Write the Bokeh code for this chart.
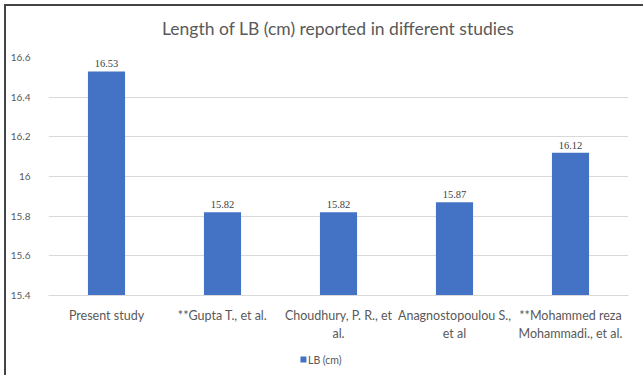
from bokeh.plotting import figure
from bokeh.layouts import column
from bokeh.models import ColumnDataSource, LabelSet, FixedTicker, CustomJSTickFormatter, Range1d
from bokeh.core.properties import value
from bokeh.embed import file_html
from bokeh.resources import INLINE

studies = ["Present study", "**Gupta T., et al.", "Choudhury, P. R., et\nal.",
           "Anagnostopoulou S.,\net al", "**Mohammed reza\nMohammadi., et al."]
lb_cm = [16.53, 15.82, 15.82, 15.87, 16.12]
y_ticks = [15.4, 15.6, 15.8, 16.0, 16.2, 16.4, 16.6]
series_name = "LB (cm)"
title_text = "Length of LB (cm) reported in different studies"

FONT = "Lato"
GRAY = "#595959"
BLUE = "#4472C4"
W = 637


def blank_fig(h):
    f = figure(width=W, height=h, x_range=Range1d(0, W), y_range=Range1d(0, h),
               x_axis_type=None, y_axis_type=None, output_backend="svg", toolbar_location=None,
               min_border=0)
    f.outline_line_color = None
    f.grid.visible = False
    return f


# ---- title strip ----
tfig = blank_fig(40)
tfig.text(x=[318], y=[18], text=[title_text], text_align="center", text_baseline="middle",
          text_font=value(FONT), text_font_size="17.5px", text_color=GRAY)

# ---- main chart ----
src = ColumnDataSource(dict(x=studies, y=lb_cm, lab=[f"{v:.2f}" for v in lb_cm]))

p = figure(x_range=studies, y_range=(15.4, 16.6), width=W, height=297,
           output_backend="svg", toolbar_location=None,
           min_border_left=42, min_border_right=15, min_border_top=11, min_border_bottom=44)
p.outline_line_color = None

r = p.vbar(x="x", top="y", bottom=15.4, width=0.32, source=src, fill_color=BLUE, line_color=None)

labels = LabelSet(x="x", y="y", text="lab", source=src, y_offset=4, text_align="center",
                  text_baseline="bottom", text_font=FONT, text_font_size="10.5px", text_color="#404040")
p.add_layout(labels)

p.yaxis.ticker = FixedTicker(ticks=y_ticks)
p.yaxis.formatter = CustomJSTickFormatter(code="return tick.toFixed(1).replace(/\\.0$/, '')")
p.yaxis.axis_line_color = None
p.yaxis.major_tick_line_color = None
p.yaxis.minor_tick_line_color = None
p.yaxis.major_label_text_font = FONT
p.yaxis.major_label_text_font_size = "10px"
p.yaxis.major_label_text_color = GRAY
p.yaxis.major_label_standoff = 12

p.xaxis.axis_line_color = "#d9d9d9"
p.xaxis.major_tick_line_color = None
p.xaxis.minor_tick_line_color = None
p.xaxis.major_label_text_font = FONT
p.xaxis.major_label_text_font_size = "12.5px"
p.xaxis.major_label_text_color = GRAY
p.xaxis.major_label_standoff = 6

p.xgrid.grid_line_color = None
p.ygrid.grid_line_color = "#d9d9d9"
p.ygrid.ticker = FixedTicker(ticks=y_ticks)

# ---- legend strip ----
lfig = blank_fig(32)
lfig.scatter(x=[280], y=[16], marker="square", size=6, fill_color=BLUE, line_color=None)
lfig.text(x=[285], y=[16], text=[series_name], text_align="left", text_baseline="middle",
          text_font=value(FONT), text_font_size="10.5px", text_color=GRAY)

lay = column(tfig, p, lfig, margin=(4, 0, 0, 4), spacing=0,
             styles={"border-left": "2px solid #444444", "border-top": "2px solid #444444"})

open("out.html", "w").write(file_html(lay, INLINE))
